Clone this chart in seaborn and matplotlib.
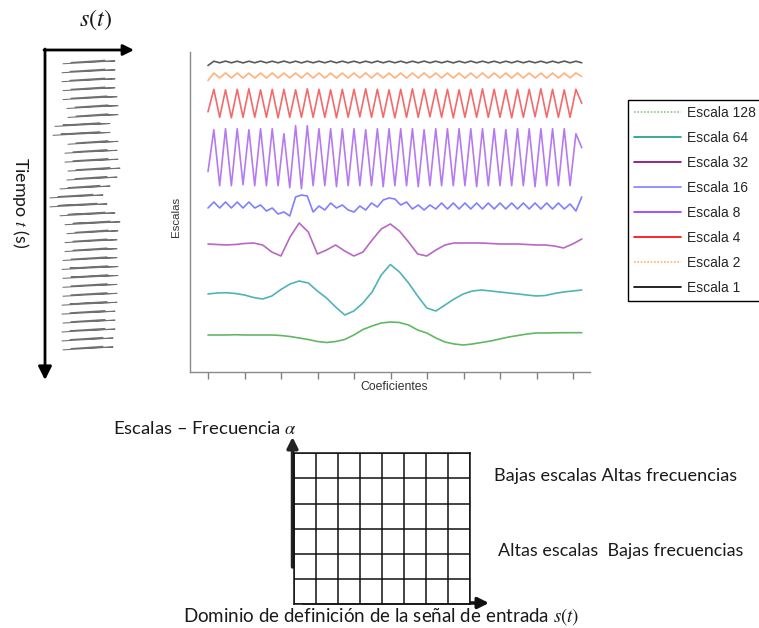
import numpy as np
import pandas as pd
import matplotlib
matplotlib.use("Agg")
import matplotlib.pyplot as plt
import seaborn as sns
from matplotlib.lines import Line2D

# ---------------- data ----------------
scale_names = ["Escala 128", "Escala 64", "Escala 32", "Escala 16",
               "Escala 8", "Escala 4", "Escala 2", "Escala 1"]

# coefficient axis (ticks every 100, 0..1000)
tick_values = [0, 100, 200, 300, 400, 500, 600, 700, 800, 900, 1000]
coef_hf = np.linspace(0, 1024, 65)   # sample positions, fast scales
coef_lf = np.linspace(0, 1024, 42)   # sample positions, slow scales

esc1 = [-3.5,
        0.8, -0.8, 0.9, -0.8, 0.8, -0.9, 0.8, -0.8,
        0.9, -0.8, 0.8, -0.8, 0.9, -0.8, 0.8, -0.9,
        0.8, -0.8, 0.8, -0.8, 0.9, -0.8, 0.8, -0.8,
        0.8, -0.9, 0.8, -0.8, 0.9, -0.8, 0.8, -0.8,
        0.8, -0.9, 0.8, -0.8, 0.9, -0.8, 0.8, -0.8,
        0.8, -0.9, 0.8, -0.8, 0.9, -0.8, 0.8, -0.8,
        0.8, -0.9, 0.8, -0.8, 0.9, -0.8, 0.8, -0.8,
        0.8, -0.9, 0.8, -0.8, 0.9, -0.8, 0.8, -0.8]
esc2 = [-5.0,
        2.5, -2.5, 2.6, -2.4, 2.5, -2.5, 2.4, -2.6,
        2.5, -2.5, 2.6, -2.5, 2.5, -2.4, 2.5, -2.5,
        2.6, -2.5, 2.5, -2.5, 2.4, -2.6, 2.5, -2.5,
        2.5, -2.4, 2.6, -2.5, 2.5, -2.5, 2.4, -2.5,
        2.5, -2.6, 2.5, -2.5, 2.6, -2.4, 2.5, -2.5,
        2.5, -2.5, 2.4, -2.6, 2.5, -2.5, 2.6, -2.5,
        2.5, -2.4, 2.5, -2.5, 2.6, -2.5, 2.5, -2.5,
        2.4, -2.6, 2.5, -2.5, 2.5, -2.4, 2.6, -1.0]
esc4 = [-8.5,
        14, -14, 13.5, -14.5, 14, -14, 14.5, -14,
        13.5, -14, 14, -14.5, 14, -14, 13.5, -14,
        14.5, -14, 14, -14, 13.5, -14.5, 14, -14,
        14, -13.5, 14.5, -14, 14, -14, 13.5, -14.5,
        14, -14, 14.5, -14, 14, -13.5, 14, -14,
        14, -14.5, 13.5, -14, 14, -14, 14.5, -14,
        14, -14, 13.5, -14.5, 14, -14, 14, -13.5,
        14.5, -14, 14, -14, 13.5, -14, 14, 0]
esc8 = [-15,
        27, -29, 28, -29, 28, -28, 27, -29,
        28, -29, 28, -29, 23, -31, 31, -32,
        31, -29, 28, -29, 28, -30, 28, -29,
        28, -29, 27, -29, 28, -30, 28, -29,
        28, -29, 28, -30, 27, -29, 28, -29,
        28, -29, 28, -29, 28, -30, 28, -29,
        28, -29, 27, -29, 28, -29, 28, -30,
        28, -29, 28, -29, 28, -29, 23, 9]
esc16 = [-3,
         3, -3, 3, -3, 3, -3, 3, -3,
         0, -6, -3, -9, -7, -11, 8, 10,
         9, -7, -1, -5, 2, -3, 0, -5,
         -7, -1, -5, 2, -2, 5, 7, 6,
         0, 3, -4, 0, -5, 0, -4, 2,
         -4, 2, -4, 2, -4, 2, -4, 2,
         -4, 2, -4, 2, -4, 2, -4, 2,
         -4, 2, -4, 2, -4, 1, -6, 8]
esc32 = [0, -0.5, -1, -0.5, 0.5, 1, -1, -8, -12, 7, 21, 12, -10, -6, -1, -7,
         -12, -8, 4, 15, 20, 13, 2, -10, -12, -6, -1, 1, 1, 1, 1, 0.5, 0, 0,
         0, -0.5, -1, -1, -2, -4, 0, 5]
esc64 = [0, 1, 1.3, 0.5, -1, -3.5, -5, -2, 4.5, 10, 13, 11, 3, -4, -13, -21,
         -17, -9, 2, 19, 29.5, 22, 11, -2, -14, -17, -11, -5, 0, 3, 4, 3, 2,
         1, 0, -1, -2, -1.5, 0.5, 2, 3, 4]
esc128 = [0, 0, 0, 0.3, 0, 0, 0, 0, -0.5, -1.5, -3, -4.5, -6.5, -7.5, -6.5,
          -4.5, 0, 5.5, 9, 12, 13, 12.5, 10, 5, 2, -3, -7, -9, -10, -9, -7.5,
          -6, -4, -2, -0.5, 1, 2, 2, 2.2, 2.3, 2.3, 2.3]

# input signal s(t): horizontal extents of each oscillation (relative to centre)
row_left = [-27, -28, -28, -27, -27, -23, -22, -35, -37, -22, -25, -25, -22,
            -23, -30, -40, -40, -30, -25, -23, -25, -25, -27, -28, -27, -27,
            -27, -28, -28, -27, -28, -28, -27]
row_right = [25, 25, 25, 25, 27, 28, 28, 20, 20, 28, 27, 28, 30, 27, 20, 13,
             17, 25, 30, 28, 27, 27, 27, 28, 28, 27, 27, 27, 25, 25, 25, 23, 23]

grid_cols, grid_rows = 8, 6

# ---------------- styles / layout ----------------
W, H = 759, 628
series = {
    "Escala 1":   (coef_hf, esc1,  310.0, "#5a5a5a", "#000000", "-"),
    "Escala 2":   (coef_hf, esc2,  296.5, "#ffb27a", "#ffb070", (0, (1, 1))),
    "Escala 4":   (coef_hf, esc4,  268.7, "#f46a6a", "#ff0000", "-"),
    "Escala 8":   (coef_hf, esc8,  215.3, "#b57af2", "#9b30ff", "-"),
    "Escala 16":  (coef_hf, esc16, 167.0, "#8080ff", "#8080ff", "-"),
    "Escala 32":  (coef_lf, esc32, 128.0, "#b868c4", "#800080", "-"),
    "Escala 64":  (coef_lf, esc64, 78.0,  "#4fb3bb", "#1a9a8a", "-"),
    "Escala 128": (coef_lf, esc128, 37.0, "#62b862", "#7ccf7c", (0, (1, 1))),
}

sns.set_style("white")
plt.rcParams['font.family'] = ['Liberation Sans', 'DejaVu Sans']
plt.rcParams['mathtext.fontset'] = 'stix'

fig = plt.figure(figsize=(W / 100, H / 100), dpi=100)


def fbox(x0, y0, x1, y1):
    return [x0 / W, 1 - y1 / H, (x1 - x0) / W, (y1 - y0) / H]


# overlay in pixel coordinates (arrows, text)
ov = fig.add_axes([0, 0, 1, 1])
ov.set_xlim(0, W)
ov.set_ylim(H, 0)
ov.axis('off')

# ---- wavelet scales chart ----
ax = fig.add_axes(fbox(190, 52, 590, 372))
ax.patch.set_alpha(0)
for name in scale_names[::-1]:
    x, v, off, c, _, _ = series[name]
    df = pd.DataFrame({"coef": x, "val": off + np.asarray(v, float)})
    sns.lineplot(data=df, x="coef", y="val", ax=ax, color=c, lw=1.2,
                 estimator=None, sort=False, legend=False)
px_per = (573 - 208) / 1000.0
ax.set_xlim((190 - 208) / px_per, (590 - 208) / px_per)
ax.set_ylim(0, 320)
ax.set_xticks(tick_values)
ax.set_xticklabels([])
ax.set_yticks([])
ax.set_xlabel("")
ax.set_ylabel("")
ax.tick_params(axis='x', bottom=True, direction='out', length=5, width=1,
               color='#808080')
for s in ['top', 'right']:
    ax.spines[s].set_visible(False)
for s in ['left', 'bottom']:
    ax.spines[s].set_color('#8a8a8a')
    ax.spines[s].set_linewidth(1.0)

# ---- input signal (one thin streak per oscillation) ----
sig_x, sig_t, sig_row = [], [], []
for i, (l, r) in enumerate(zip(row_left, row_right)):
    sig_x += [l, r, l + 8, r - 10]
    sig_t += [i + 0.2, i - 0.12, i + 0.05, i - 0.2]
    sig_row += [i, i, i, i]
sig_df = pd.DataFrame({"amp": sig_x, "t": sig_t, "row": sig_row})
axs = fig.add_axes(fbox(40, 55, 140, 360))
axs.patch.set_alpha(0)
sns.lineplot(data=sig_df, x="amp", y="t", units="row", sort=False,
             estimator=None, color='#707070', lw=0.75, ax=axs, legend=False)
axs.set_xlim(-50, 50)
axs.set_ylim((360 - 62) / 8.94, (55 - 62) / 8.94)
axs.axis('off')

# ---- scale/frequency grid ----
axg = fig.add_axes(fbox(294.3, 453.3, 470.3, 604))
axg.set_xlim(0, grid_cols)
axg.set_ylim(0, grid_rows)
axg.set_xticks(range(grid_cols + 1))
axg.set_yticks(range(grid_rows + 1))
axg.set_xticklabels([])
axg.set_yticklabels([])
axg.tick_params(length=0)
axg.grid(True, color='#111111', lw=1.1)
for s in axg.spines.values():
    s.set_color('#111111')
    s.set_linewidth(1.1)

# ---- arrows ----
def arrow(x0, y0, x1, y1, lw, ms, color='black'):
    ov.annotate('', xy=(x1, y1), xytext=(x0, y0),
                arrowprops=dict(arrowstyle='-|>', color=color, lw=lw,
                                mutation_scale=ms, shrinkA=0, shrinkB=0))

arrow(44, 50, 134, 50, 2.0, 16)
arrow(45, 49, 45, 380, 2.0, 20)
arrow(292.5, 567, 292.5, 437, 2.5, 16, '#222222')
arrow(303, 603, 489, 603, 2.5, 16, '#111111')

# ---- legend ----
handles = [Line2D([], [], color=series[n][4], lw=1.2, ls=series[n][5])
           for n in scale_names]
leg = fig.legend(handles, scale_names, loc='upper left',
                 bbox_to_anchor=(628 / W, 1 - 100 / H), borderaxespad=0,
                 fontsize=10, frameon=True, fancybox=False, framealpha=1,
                 edgecolor='black', handlelength=3.4, handletextpad=0.45,
                 labelspacing=0.8, borderpad=0.4)
leg.get_frame().set_linewidth(1.0)

# ---- texts ----
texts = []
def txt(x, y, s, target, ha='center', rot=0, vertical=False, **kw):
    t = ov.text(x, y, s, ha=ha, va='center', rotation=rot, **kw)
    texts.append((t, target, vertical))
    return t

ink = '#1a1a1a'
lat = ['Lato', 'DejaVu Sans']
txt(95, 20, r'$s(t)$', 33, fontsize=13, color=ink)
txt(20, 203, r'Tiempo $t$ (s)', 91, rot=270, vertical=True, fontsize=11,
    family=lat, color=ink)
txt(176, 217, 'Escalas', 40, rot=90, vertical=True, fontsize=6.5, color='#333333')
txt(394, 387, 'Coeficientes', 68, fontsize=7.5, color='#333333')
txt(113, 428, 'Escalas – Frecuencia $\\alpha$', 184, ha='left', fontsize=12,
    family=lat, color=ink)
txt(494, 476, 'Bajas escalas Altas frecuencias', 243, ha='left', fontsize=12,
    family=lat, color=ink)
txt(498, 551, 'Altas escalas  Bajas frecuencias', 246, ha='left', fontsize=12,
    family=lat, color=ink)
txt(183, 617, 'Dominio de definición de la señal de entrada $s(t)$', 395,
    ha='left', fontsize=12, family=lat, color=ink)

for _ in range(3):
    fig.canvas.draw()
    r = fig.canvas.get_renderer()
    for t, target, vertical in texts:
        bb = t.get_window_extent(r)
        w = bb.height if vertical else bb.width
        if w > 0:
            t.set_fontsize(t.get_fontsize() * target / w)

fig.savefig("out.png", dpi=100)
